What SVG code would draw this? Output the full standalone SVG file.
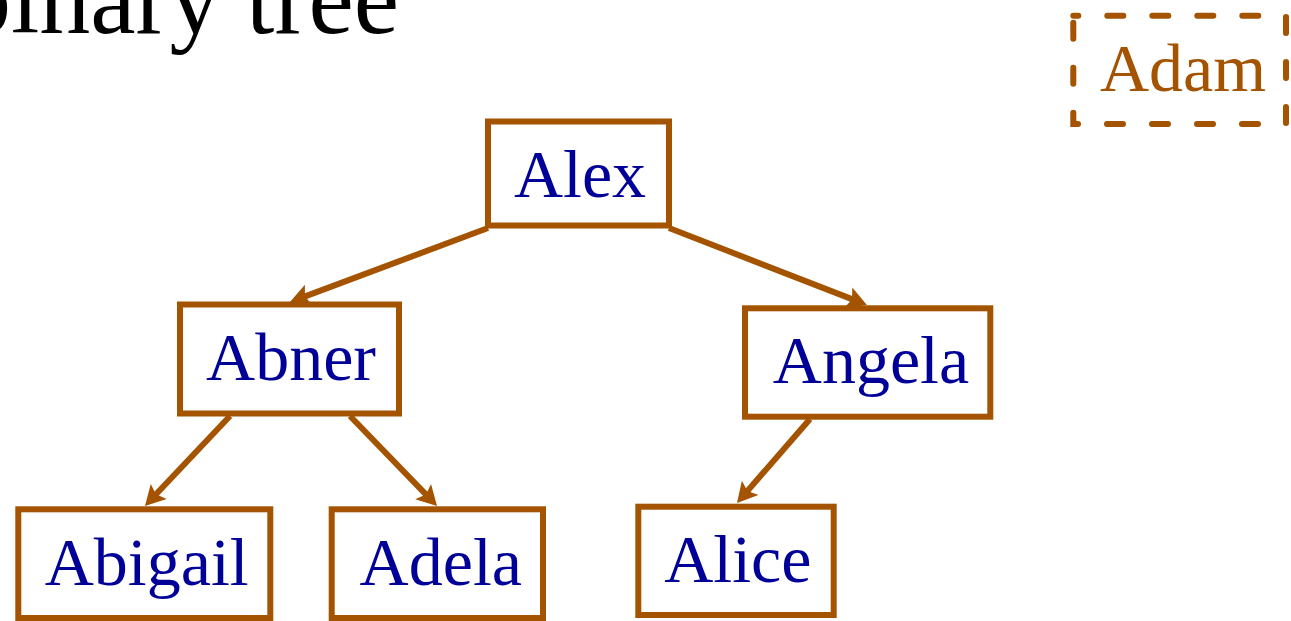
<svg xmlns="http://www.w3.org/2000/svg" width="1291" height="621" viewBox="0 0 1291 621">
  <style>
    .box { fill: #ffffff; stroke: #A45300; stroke-width: 6; }
    .ghost { fill: none; stroke: #A45300; stroke-width: 6; stroke-linecap: round; stroke-dasharray: 16 29; stroke-dashoffset: 11; }
    .label { font-family: "Liberation Serif", "Times New Roman", serif; font-size: 68px; fill: #000099; text-anchor: middle; }
    .ghost-label { font-family: "Liberation Serif", "Times New Roman", serif; font-size: 68px; fill: #A45300; text-anchor: middle; }
    .title { font-family: "Liberation Serif", "Times New Roman", serif; font-size: 102px; fill: #000000; }
    .edge { fill: none; stroke: #A45300; stroke-width: 6; marker-end: url(#head); }
  </style>
  <defs>
    <marker id="head" markerUnits="userSpaceOnUse" orient="auto" refX="0" refY="0" markerWidth="30" markerHeight="30" overflow="visible">
      <path d="M14,0 L-6,-11 L-2,0 L-6,11 Z" fill="#A45300"/>
    </marker>
  </defs>

  <rect width="1291" height="621" fill="#ffffff"/>

  <text class="title" x="-40" y="33">binary tree</text>

  <!-- parent-to-child links -->
  <g id="connectors">
    <path class="edge" d="M488,228 L303.1,297.1"/>
    <path class="edge" d="M669,228 L853.9,299.9"/>
    <path class="edge" d="M230,416 L154.6,495.8"/>
    <path class="edge" d="M350,416 L427.3,495.9"/>
    <path class="edge" d="M810,419 L746.2,492.4"/>
  </g>

  <g id="node-alex">
    <rect class="box" x="488" y="121.5" width="181" height="104"/>
    <text class="label" x="580" y="197">Alex</text>
  </g>
  <g id="node-abner">
    <rect class="box" x="180" y="304.5" width="219" height="109"/>
    <text class="label" x="291" y="380">Abner</text>
  </g>
  <g id="node-angela">
    <rect class="box" x="745" y="308.3" width="245.3" height="108.4"/>
    <text class="label" x="871" y="383.3">Angela</text>
  </g>
  <g id="node-abigail">
    <rect class="box" x="18.3" y="509.3" width="252" height="108.7"/>
    <text class="label" x="146.7" y="585">Abigail</text>
  </g>
  <g id="node-adela">
    <rect class="box" x="331.7" y="509.3" width="211.3" height="108.7"/>
    <text class="label" x="440.8" y="585">Adela</text>
  </g>
  <g id="node-alice">
    <rect class="box" x="638.3" y="506.7" width="195.4" height="108.3"/>
    <text class="label" x="737.8" y="581.7">Alice</text>
  </g>
  <g id="node-adam">
    <rect class="ghost" x="1073.3" y="15.7" width="212.7" height="108.3"/>
    <text class="ghost-label" x="1183" y="90.7">Adam</text>
  </g>
</svg>
